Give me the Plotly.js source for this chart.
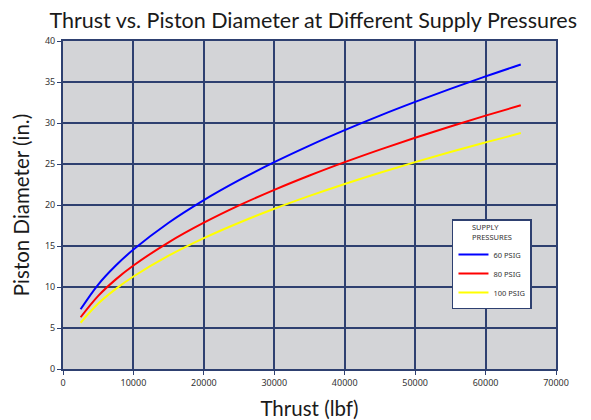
<!DOCTYPE html>
<html><head><meta charset="utf-8">
<script src="https://cdn.plot.ly/plotly-3.0.1.min.js"></script>
<style>body{margin:0;background:#fff}#c{width:591px;height:420px}</style>
</head><body><div id="c"></div>
<script>
const thrust = [2500, 5000, 7500, 10000, 15000, 20000, 25000, 30000, 35000, 40000, 45000, 50000, 55000, 60000, 65000];
const dia60  = [7.28, 10.30, 12.62, 14.57, 17.84, 20.60, 23.03, 25.23, 27.25, 29.13, 30.90, 32.57, 34.16, 35.68, 37.14];
const dia80  = [6.31, 8.92, 10.93, 12.62, 15.45, 17.84, 19.95, 21.85, 23.60, 25.23, 26.76, 28.21, 29.58, 30.90, 32.16];
const dia100 = [5.64, 7.98, 9.77, 11.28, 13.82, 15.96, 17.84, 19.54, 21.11, 22.57, 23.94, 25.23, 26.46, 27.64, 28.77];
const seriesNames = ['60 PSIG', '80 PSIG', '100 PSIG'];
const colors = ['#0000ff', '#ff0000', '#ffff00'];
const navy = '#2e4070';
const traces = [dia60, dia80, dia100].map((d, i) => ({
  x: thrust, y: d, type: 'scatter', mode: 'lines', name: seriesNames[i],
  line: {color: colors[i], width: 2, shape: 'spline'}
}));
const layout = {
  width: 591, height: 420,
  margin: {l: 63, r: 35, t: 41, b: 51},
  paper_bgcolor: '#ffffff', plot_bgcolor: '#d3d4d7',
  font: {family: 'Lato, "Noto Sans", sans-serif', color: '#222'},
  title: {text: 'Thrust vs. Piston Diameter at Different Supply Pressures', font: {size: 21.5, color: '#1a1a1a'}, x: 0.53, xanchor: 'center', y: 0.952, yanchor: 'middle'},
  xaxis: {
    range: [0, 70000], dtick: 10000, tick0: 0, tickformat: 'd', showgrid: true, gridcolor: navy, gridwidth: 2,
    zeroline: false, showline: true, linecolor: navy, linewidth: 2, mirror: true,
    ticks: 'outside', ticklen: 4, tickcolor: navy, tickfont: {size: 9, color: '#333', family: '"Noto Sans", sans-serif'},
    title: {text: 'Thrust (lbf)', font: {size: 20.5, color: '#1a1a1a'}, standoff: 14}
  },
  yaxis: {
    range: [0, 40], dtick: 5, showgrid: true, gridcolor: navy, gridwidth: 2,
    zeroline: false, showline: true, linecolor: navy, linewidth: 2, mirror: true,
    ticks: 'outside', ticklen: 4, tickcolor: navy, tickfont: {size: 9, color: '#333', family: '"Noto Sans", sans-serif'},
    title: {text: 'Piston Diameter (in.)', font: {size: 20.5, color: '#1a1a1a'}, standoff: 10}
  },
  legend: {
    x: 0.789, y: 0.457, xanchor: 'left', yanchor: 'top',
    bgcolor: '#ffffff', bordercolor: navy, borderwidth: 1.5,
    font: {size: 7.5, color: '#333', family: '"Noto Sans", sans-serif'},
    title: {text: 'SUPPLY<br>PRESSURES', side: 'top center', font: {size: 7.5, color: '#333'}},
    tracegroupgap: 0, itemwidth: 30
  },
  showlegend: true
};
Plotly.newPlot('c', traces, layout, {displayModeBar: false, staticPlot: true});
</script></body></html>
